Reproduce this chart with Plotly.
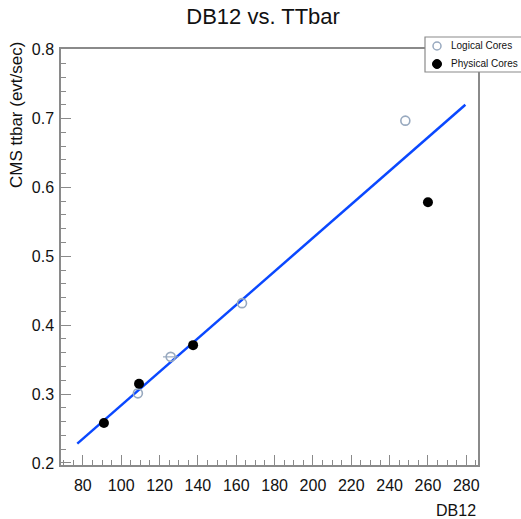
import plotly.graph_objects as go

# ---- data ----
logical_x = [108.7, 125.8, 163.0, 248.2]
logical_y = [0.301, 0.354, 0.432, 0.697]
logical_xerr = [0.0, 4.0, 0.0, 0.0]

physical_x = [91.0, 109.3, 137.5, 260.0]
physical_y = [0.258, 0.315, 0.371, 0.5785]

fit_x = [77.1, 279.5]
fit_y = [0.228, 0.720]

x_ticks = [80, 100, 120, 140, 160, 180, 200, 220, 240, 260, 280]
y_ticks = [0.2, 0.3, 0.4, 0.5, 0.6, 0.7, 0.8]

legend_labels = ["Logical Cores", "Physical Cores"]

FONT = "Liberation Sans, Arial, Helvetica, sans-serif"
AXC = "#8a8a8a"
OPEN_C = "#98a9bf"

W, H = 521, 519
ML, MR, MT, MB = 61, 43, 49, 54
PW, PH = W - ML - MR, H - MT - MB


def px(xp):
    return (xp - ML) / PW


def py(yp):
    return (H - MB - yp) / PH


fig = go.Figure()

fig.add_trace(go.Scatter(
    x=fit_x, y=fit_y, mode="lines",
    line=dict(color="#0a48ff", width=2.5),
    showlegend=False, hoverinfo="skip",
))

fig.add_trace(go.Scatter(
    x=logical_x, y=logical_y, mode="markers", name=legend_labels[0],
    marker=dict(symbol="circle-open", size=9, color=OPEN_C,
                line=dict(width=1.6, color=OPEN_C)),
    error_x=dict(type="data", array=logical_xerr, color=OPEN_C,
                 thickness=1.2, width=0),
    showlegend=False,
))

fig.add_trace(go.Scatter(
    x=physical_x, y=physical_y, mode="markers", name=legend_labels[1],
    marker=dict(symbol="circle", size=10, color="black"),
    showlegend=False,
))

fig.update_layout(
    width=W, height=H,
    margin=dict(l=ML, r=MR, t=MT, b=MB, autoexpand=False),
    paper_bgcolor="white", plot_bgcolor="white",
    font=dict(family=FONT, color="black"),
    title=dict(text="DB12 vs. TTbar", x=0.505, xanchor="center",
               y=1 - 16 / H, yanchor="middle",
               font=dict(size=22, family=FONT, color="#111")),
    showlegend=False,
)

fig.update_xaxes(
    range=[68.6, 286.1], tickmode="array", tickvals=x_ticks,
    ticktext=[str(v) for v in x_ticks],
    showgrid=False, zeroline=False,
    showline=True, linecolor=AXC, linewidth=1.5, mirror=True,
    ticks="inside", ticklen=10, tickcolor=AXC, tickwidth=1,
    tickfont=dict(size=16, family=FONT, color="#111"),
    ticklabelstandoff=5,
    minor=dict(ticks="inside", ticklen=5, dtick=5, tick0=0, tickcolor=AXC,
               tickwidth=1, showgrid=False),
)

fig.update_yaxes(
    range=[0.197, 0.801], tickmode="array", tickvals=y_ticks,
    ticktext=[f"{v:.1f}" for v in y_ticks],
    showgrid=False, zeroline=False,
    showline=True, linecolor=AXC, linewidth=1.5, mirror=True,
    ticks="inside", ticklen=10, tickcolor=AXC, tickwidth=1,
    tickfont=dict(size=16, family=FONT, color="#111"),
    ticklabelstandoff=2,
    minor=dict(ticks="inside", ticklen=5, dtick=0.02, tick0=0, tickcolor=AXC,
               tickwidth=1, showgrid=False),
)

# ---- ROOT-style legend box (cut off by right page edge) ----
fig.add_shape(type="rect", xref="paper", yref="paper",
              x0=px(425), x1=px(535), y0=py(72), y1=py(37),
              line=dict(color="#8a8a8a", width=1.2), fillcolor="white",
              layer="above")
# legend markers as pixel-sized circles
fig.add_shape(type="circle", xref="paper", yref="paper",
              xsizemode="pixel", ysizemode="pixel",
              xanchor=px(437), yanchor=py(46),
              x0=-4, x1=4, y0=-4, y1=4,
              line=dict(color=OPEN_C, width=1.5), fillcolor="white",
              layer="above")
fig.add_shape(type="circle", xref="paper", yref="paper",
              xsizemode="pixel", ysizemode="pixel",
              xanchor=px(437), yanchor=py(64),
              x0=-4.5, x1=4.5, y0=-4.5, y1=4.5,
              line=dict(color="black", width=1), fillcolor="black",
              layer="above")
for lbl, yy in zip(legend_labels, [46, 64]):
    fig.add_annotation(text=lbl, xref="paper", yref="paper",
                       x=px(449), y=py(yy), xanchor="left", yanchor="middle",
                       showarrow=False,
                       font=dict(size=10, family=FONT, color="#111"))

# axis titles placed ROOT-style
fig.add_annotation(
    text="CMS ttbar (evt/sec)", xref="paper", yref="paper",
    x=px(17), y=py(40), xanchor="center", yanchor="top",
    textangle=-90, showarrow=False,
    font=dict(size=17, family=FONT, color="#111"),
)
fig.add_annotation(
    text="DB12", xref="paper", yref="paper",
    x=px(478), y=py(510), xanchor="right", yanchor="middle",
    showarrow=False,
    font=dict(size=16, family=FONT, color="#111"),
)

fig.write_html("out.html")
